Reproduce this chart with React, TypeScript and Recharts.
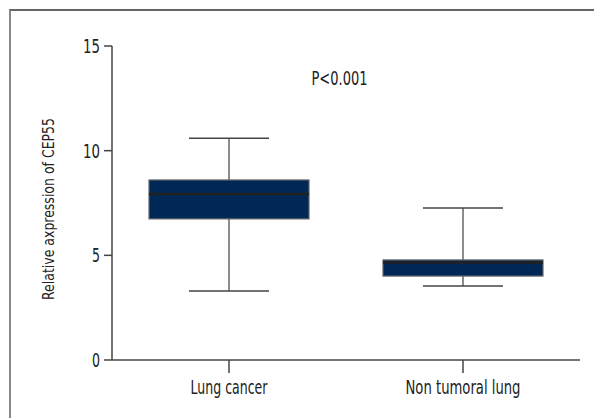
import React from "react";
import { ComposedChart, Bar, XAxis, YAxis, Label } from "recharts";

// ── Data ─────────────────────────────────────────────────────────────────────

const categories = ["Lung cancer", "Non tumoral lung"];
const mins = [3.3, 3.54];
const q1s = [6.74, 4.01];
const medians = [7.93, 4.66];
const q3s = [8.6, 4.78];
const maxs = [10.59, 7.26];
const yTicks = [0, 5, 10, 15];

const data = categories.map((name, i) => ({
  name,
  min: mins[i],
  q1: q1s[i],
  median: medians[i],
  q3: q3s[i],
  max: maxs[i],
  range: [mins[i], maxs[i]],
}));

// ── Styles ───────────────────────────────────────────────────────────────────

const FONT = "'DejaVu Sans Condensed', 'Liberation Sans Narrow', sans-serif";
const TEXT = "#222";
const AXIS = "#444";
const WHISKER = "#666";
const BOX_FILL = "#002856";

// the original uses a very narrow font, so squeeze each label to its width
const textWidths: Record<string, number> = {
  "Lung cancer": 77,
  "Non tumoral lung": 115,
  "0": 8,
  "5": 8,
  "10": 17,
  "15": 17,
};

// ── Box shape ────────────────────────────────────────────────────────────────

function BoxShape(props: any) {
  const { x, y, width, height, payload } = props;
  const { min, max, q1, q3, median } = payload;
  // map a value to pixels using the bar's own [min, max] extent
  const py = (v: number) => y + ((max - v) / (max - min)) * height;
  const cx = x + width / 2;
  const capHalf = width / 4;
  return (
    <g>
      <line x1={cx} x2={cx} y1={py(max)} y2={py(q3)} stroke={WHISKER} strokeWidth={1.5} />
      <line x1={cx} x2={cx} y1={py(q1)} y2={py(min)} stroke={WHISKER} strokeWidth={1.5} />
      <line x1={cx - capHalf} x2={cx + capHalf} y1={py(max)} y2={py(max)} stroke={AXIS} strokeWidth={1.5} />
      <line x1={cx - capHalf} x2={cx + capHalf} y1={py(min)} y2={py(min)} stroke={AXIS} strokeWidth={1.5} />
      <rect
        x={x}
        y={py(q3)}
        width={width}
        height={py(q1) - py(q3)}
        fill={BOX_FILL}
        stroke={WHISKER}
        strokeWidth={1.2}
      />
      <line x1={x} x2={x + width} y1={py(median)} y2={py(median)} stroke="#222" strokeWidth={2.5} />
    </g>
  );
}

function XTick({ x, y, payload }: any) {
  const label = String(payload.value);
  return (
    <text
      x={x}
      y={y}
      dy={15}
      textAnchor="middle"
      fill={TEXT}
      fontSize={19}
      fontFamily={FONT}
      textLength={textWidths[label]}
      lengthAdjust="spacingAndGlyphs"
    >
      {label}
    </text>
  );
}

function YTick({ x, y, payload }: any) {
  const label = String(payload.value);
  return (
    <text
      x={x}
      y={y}
      dy={7}
      textAnchor="end"
      fill={TEXT}
      fontSize={19}
      fontFamily={FONT}
      textLength={textWidths[label]}
      lengthAdjust="spacingAndGlyphs"
    >
      {label}
    </text>
  );
}

// ── Chart ────────────────────────────────────────────────────────────────────

export default function App() {
  return (
    <div style={{ position: "absolute", left: 0, top: 0, width: 594, height: 418, background: "#fff" }}>
      <div
        style={{
          position: "absolute",
          left: 9,
          top: 9,
          right: -10,
          bottom: -10,
          borderTop: "2px solid #666",
          borderLeft: "2px solid #888",
        }}
      />
      <ComposedChart
        width={594}
        height={418}
        data={data}
        margin={{ top: 46, right: 14, left: 0, bottom: 0 }}
        style={{ position: "absolute", left: 0, top: 0 }}
      >
        <XAxis
          dataKey="name"
          height={58}
          tickSize={13}
          tickMargin={6}
          axisLine={{ stroke: AXIS, strokeWidth: 1.5 }}
          tickLine={{ stroke: AXIS, strokeWidth: 1.5 }}
          tick={<XTick />}
        />
        <YAxis
          width={112}
          domain={[0, 15]}
          ticks={yTicks}
          tickSize={8}
          tickMargin={4}
          axisLine={{ stroke: AXIS, strokeWidth: 1.5 }}
          tickLine={{ stroke: AXIS, strokeWidth: 1.5 }}
          tick={<YTick />}
        >
          <Label
            content={({ viewBox }: any) => {
              const cy = viewBox.y + viewBox.height / 2 + 6;
              return (
                <text
                  x={49}
                  y={cy}
                  transform={`rotate(-90, 49, ${cy})`}
                  textAnchor="middle"
                  dominantBaseline="central"
                  fill={TEXT}
                  fontSize={15}
                  fontFamily={FONT}
                  textLength={182}
                  lengthAdjust="spacingAndGlyphs"
                >
                  Relative axpression of CEP55
                </text>
              );
            }}
          />
        </YAxis>
        <Bar dataKey="range" barSize={160} shape={<BoxShape />} isAnimationActive={false} />
      </ComposedChart>
      <svg width={594} height={418} style={{ position: "absolute", left: 0, top: 0, pointerEvents: "none" }}>
        <text
          x={339.5}
          y={85}
          textAnchor="middle"
          fill={TEXT}
          fontSize={19}
          fontFamily={FONT}
          textLength={56}
          lengthAdjust="spacingAndGlyphs"
        >
          P&lt;0.001
        </text>
      </svg>
    </div>
  );
}
